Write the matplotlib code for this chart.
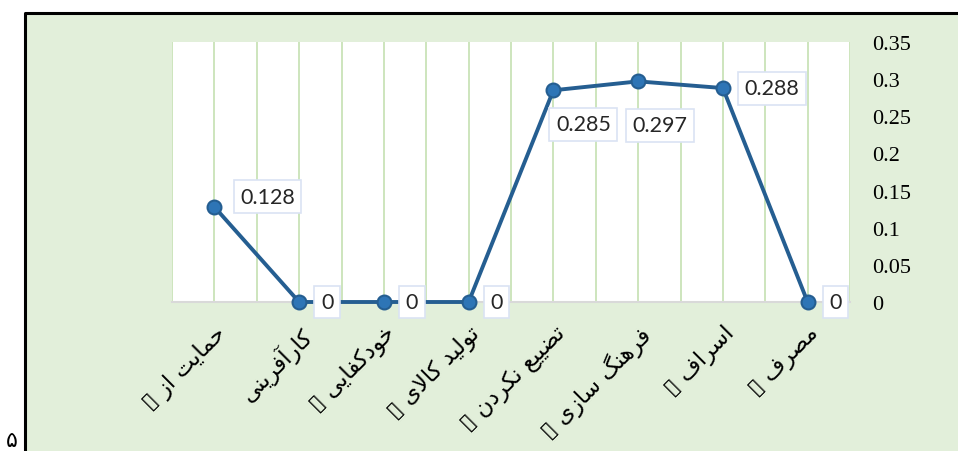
import matplotlib
matplotlib.use('Agg')
import matplotlib.pyplot as plt
from matplotlib.patches import Rectangle
from matplotlib.lines import Line2D

# persian labels (logical order)
categories = ['حمایت از ▯', 'کارآفرینی', 'خودکفایی ▯', 'تولید کالای ▯',
              'تضییع نکردن ▯', 'فرهنگ سازی ▯', 'اسراف ▯', 'مصرف ▯']
values = [0.128, 0, 0, 0, 0.285, 0.297, 0.288, 0]
value_labels = ['0.128', '0', '0', '0', '0.285', '0.297', '0.288', '0']
yticks = [0, 0.05, 0.1, 0.15, 0.2, 0.25, 0.3, 0.35]
ytick_labels = ['0', '0.05', '0.1', '0.15', '0.2', '0.25', '0.3', '0.35']
# label offsets in pixels (dx, dy) from the point
label_offsets = [(53, 10), (28, 0), (28, 0), (28, 0), (30, -34), (22, -44), (49, 0), (28, 0)]

# matplotlib has no arabic shaping -> small reshaper to presentation forms
# letter: (isolated, final, initial, medial); None for non-left-joining letters
FORMS = {
    'ا': (0xFE8D, 0xFE8E, None, None),
    'آ': (0xFE81, 0xFE82, None, None),
    'ت': (0xFE95, 0xFE96, 0xFE97, 0xFE98),
    'ح': (0xFEA1, 0xFEA2, 0xFEA3, 0xFEA4),
    'خ': (0xFEA5, 0xFEA6, 0xFEA7, 0xFEA8),
    'د': (0xFEA9, 0xFEAA, None, None),
    'ر': (0xFEAD, 0xFEAE, None, None),
    'ز': (0xFEAF, 0xFEB0, None, None),
    'س': (0xFEB1, 0xFEB2, 0xFEB3, 0xFEB4),
    'ص': (0xFEB9, 0xFEBA, 0xFEBB, 0xFEBC),
    'ض': (0xFEBD, 0xFEBE, 0xFEBF, 0xFEC0),
    'ع': (0xFEC9, 0xFECA, 0xFECB, 0xFECC),
    'ف': (0xFED1, 0xFED2, 0xFED3, 0xFED4),
    'ل': (0xFEDD, 0xFEDE, 0xFEDF, 0xFEE0),
    'م': (0xFEE1, 0xFEE2, 0xFEE3, 0xFEE4),
    'ن': (0xFEE5, 0xFEE6, 0xFEE7, 0xFEE8),
    'ه': (0xFEE9, 0xFEEA, 0xFEEB, 0xFEEC),
    'و': (0xFEED, 0xFEEE, None, None),
    'ی': (0xFBFC, 0xFBFD, 0xFBFE, 0xFBFF),
    'ک': (0xFB8E, 0xFB8F, 0xFB90, 0xFB91),
    'گ': (0xFB92, 0xFB93, 0xFB94, 0xFB95),
}


def joins_left(c):
    return c in FORMS and FORMS[c][2] is not None


def reshape(s):
    out = []
    i = 0
    while i < len(s):
        c = s[i]
        prev = s[i - 1] if i > 0 else ''
        if c not in FORMS:
            out.append(c)
            i += 1
            continue
        jp = joins_left(prev)
        # lam-alef ligature
        if c == 'ل' and i + 1 < len(s) and s[i + 1] == 'ا':
            out.append(chr(0xFEFC if jp else 0xFEFB))
            i += 2
            continue
        nxt = s[i + 1] if i + 1 < len(s) else ''
        jn = joins_left(c) and nxt in FORMS
        iso, fin, ini, med = FORMS[c]
        if jp and jn:
            out.append(chr(med))
        elif jp:
            out.append(chr(fin))
        elif jn:
            out.append(chr(ini))
        else:
            out.append(chr(iso))
        i += 1
    return ''.join(out)[::-1]


fig = plt.figure(figsize=(9.58, 4.52), dpi=100)
fig.patch.set_facecolor('white')
W, H = 958, 452

# green chart frame with black top/left edge
fig.patches.append(Rectangle((25 / W, 0), 1, 1 - 14 / H, transform=fig.transFigure,
                             facecolor='#E2EFDA', edgecolor='none', zorder=-2))
fig.lines.append(Line2D([25 / W, 25 / W, 1], [0, 1 - 14 / H, 1 - 14 / H], transform=fig.transFigure,
                        color='black', lw=2.2, zorder=-1))
fig.text(6 / W, 1 / H, '۵', fontsize=16, family='DejaVu Sans', va='bottom', ha='left')

ax = fig.add_axes([172 / W, 1 - 303 / H, 678 / W, 260 / H])
ax.set_zorder(1)
ax.set_facecolor('white')
x = list(range(len(values)))

ax.set_xlim(-0.5, len(values) - 0.5)
ax.set_ylim(0, 0.35)
for g in [k * 0.5 - 0.5 for k in range(2 * len(values) + 1)]:
    ax.axvline(g, color='#C9E3B8', lw=1.3, zorder=1)

ax.plot(x, values, color='#255E91', lw=2.8, marker='o', ms=10,
        mfc='#2E75B6', mec='#255E91', mew=1.5, zorder=3, clip_on=False)

for xi, v, lab, (dx, dy) in zip(x, values, value_labels, label_offsets):
    ax.annotate(lab, (xi, v), xytext=(dx * 0.72, dy * 0.72), textcoords='offset points',
                ha='center', va='center', fontsize=15.5, family='Lato', color='#262626',
                bbox=dict(boxstyle='square,pad=0.3', fc='white', ec='#DAE3F3', lw=1.2),
                zorder=5, annotation_clip=False)

for s in ['top', 'left', 'right']:
    ax.spines[s].set_visible(False)
ax.spines['bottom'].set_color('#D9D9D9')
ax.spines['bottom'].set_linewidth(1.5)
ax.spines['bottom'].set_zorder(2)

ax.yaxis.tick_right()
ax.set_yticks(yticks)
ax.set_yticklabels(ytick_labels, family='Liberation Serif', fontsize=16)
ax.tick_params(axis='y', length=0, pad=16)
for t in ax.get_yticklabels():
    t.set_horizontalalignment('left')

ax.set_xticks(x)
ax.set_xticklabels([reshape(c) for c in categories], rotation=45, ha='right', va='top',
                   rotation_mode='anchor', fontsize=16.5, family='DejaVu Sans')
ax.tick_params(axis='x', length=0, pad=14)

fig.savefig('out.png', dpi=100, facecolor='white')
